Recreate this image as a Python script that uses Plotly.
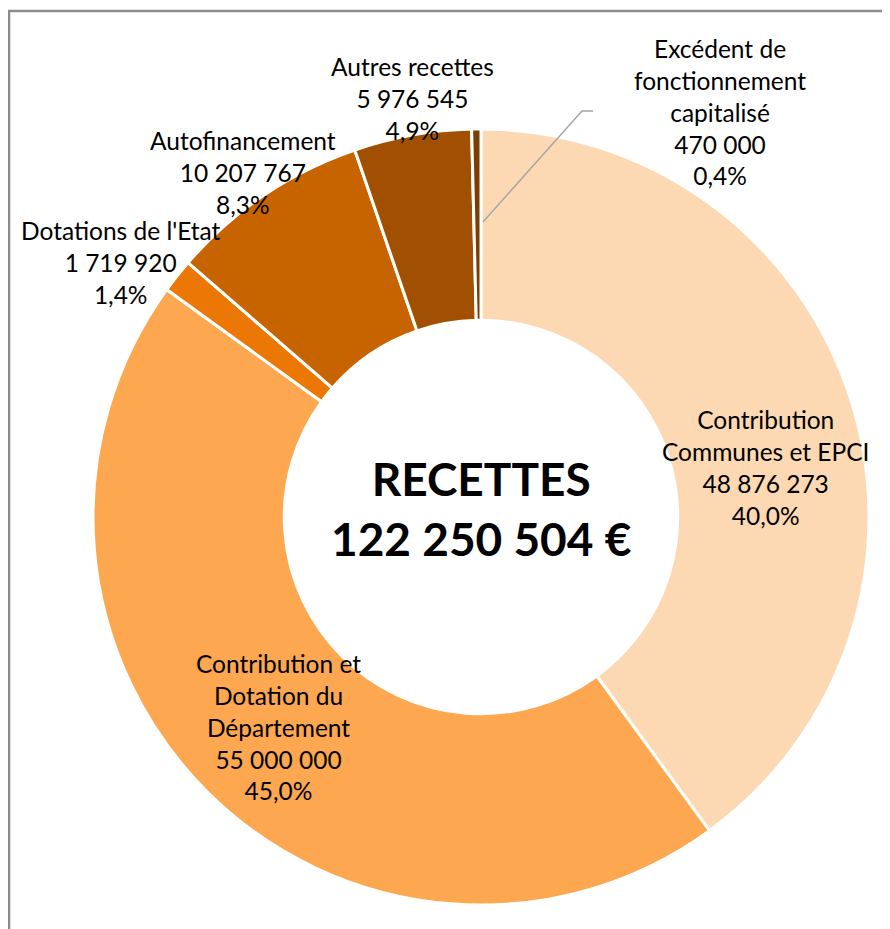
import plotly.graph_objects as go

# ---- data ----
categories = [
    "Contribution<br>Communes et EPCI",
    "Contribution et<br>Dotation du<br>Département",
    "Dotations de l'Etat",
    "Autofinancement",
    "Autres recettes",
    "Excédent de<br>fonctionnement<br>capitalisé",
]
values = [48876273, 55000000, 1719920, 10207767, 5976545, 470000]
total_label = 122250504
center_title = "RECETTES"

colors = ["#FDD9B3", "#FDA850", "#EB7705", "#C86400", "#A05000", "#7A3D05"]

# label block centres (screen pixels)
label_px = [(765, 467), (278, 727), (121, 262), (243, 173), (412, 98), (720, 112)]

# page body has an 8px margin: figure canvas = screen - 8
OFF = 8
W, H = 890 - OFF, 929 - OFF


def X(px):
    return (px - OFF) / W


def Y(py):
    return 1 - (py - OFF) / H


def fr_int(v):
    return f"{v:,}".replace(",", " ")


def fr_pct(v, tot):
    return f"{100 * v / tot:.1f}%".replace(".", ",")


tot = sum(values)

fig = go.Figure()
cx, cy, R = 481, 517, 388
fig.add_trace(go.Pie(
    labels=[c.replace("<br>", " ") for c in categories],
    values=values,
    sort=False,
    direction="clockwise",
    rotation=0,
    hole=0.507,
    textinfo="none",
    marker=dict(colors=colors, line=dict(color="white", width=3)),
    domain=dict(x=[X(cx - R), X(cx + R)], y=[Y(cy + R), Y(cy - R)]),
    showlegend=False,
    hoverinfo="label+value+percent",
))

annotations = []
for cat, v, (px, py) in zip(categories, values, label_px):
    annotations.append(dict(
        text=f"{cat}<br>{fr_int(v)}<br>{fr_pct(v, tot)}",
        x=X(px), y=Y(py), xref="paper", yref="paper",
        xanchor="center", yanchor="middle", align="center",
        showarrow=False, font=dict(family="Lato", size=24.5, color="#000000"),
    ))

annotations.append(dict(
    text=f"<b>{center_title}</b><br><b>{fr_int(total_label)} €</b>",
    x=X(cx), y=Y(508), xref="paper", yref="paper",
    xanchor="center", yanchor="middle", align="center",
    showarrow=False, font=dict(family="Lato", size=46, color="#000000"),
))

shapes = [
    # chart frame
    dict(type="rect", xref="paper", yref="paper", x0=X(9), x1=1.05, y0=-0.05, y1=Y(11),
         line=dict(color="#8C8C8C", width=2.5), fillcolor="rgba(0,0,0,0)"),
    # leader line for the small slice
    dict(type="path", xref="paper", yref="paper",
         path=f"M {X(483)} {Y(222)} L {X(582)} {Y(111)} L {X(593)} {Y(111)}",
         line=dict(color="#A6A6A6", width=1.5)),
]

fig.update_layout(
    width=W, height=H,
    margin=dict(l=0, r=0, t=0, b=0),
    paper_bgcolor="white", plot_bgcolor="white",
    annotations=annotations, shapes=shapes,
)

fig.write_html("out.html")
